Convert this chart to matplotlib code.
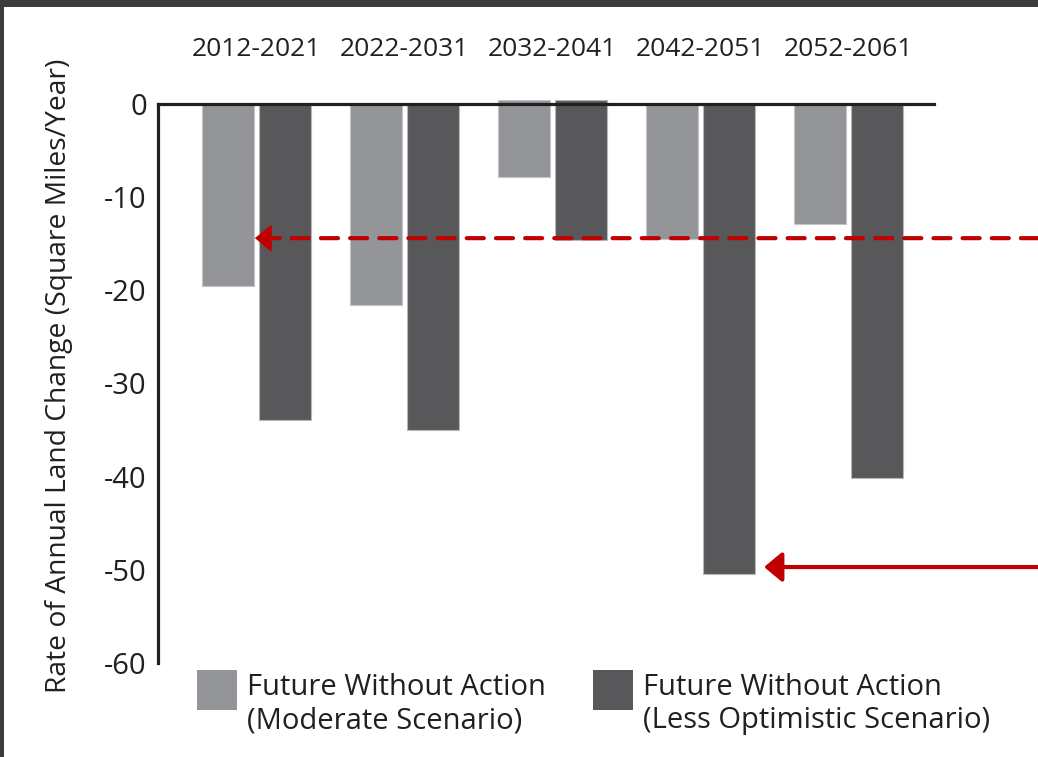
import matplotlib
matplotlib.use('Agg')
import matplotlib.pyplot as plt
from matplotlib.patches import Rectangle
import numpy as np

# Data (square miles / year)
periods = ['2012-2021', '2022-2031', '2032-2041', '2042-2051', '2052-2061']
moderate = [-19.5, -21.6, -7.8, -14.5, -12.9]
less_optimistic = [-33.9, -35.0, -14.6, -50.5, -40.1]
bar_base = [0, 0, 0.4, 0, 0]  # the 2032-2041 bars start slightly above zero
series_labels = ['Future Without Action\n(Moderate Scenario)',
                 'Future Without Action\n(Less Optimistic Scenario)']
y_ticks = [0, -10, -20, -30, -40, -50, -60]

# Reference arrows: (level, tip x in group units)
dashed_level, dashed_tip = -14.4, -0.01
solid_level, solid_tip = -49.7, 3.43

plt.rcParams['font.family'] = ['Open Sans', 'DejaVu Sans']
plt.rcParams['axes.unicode_minus'] = False
text_color = '#231f20'
light = '#939598'
dark = '#58585a'
red = '#c00000'

W, H = 1038, 757
fig = plt.figure(figsize=(W / 100, H / 100), dpi=100, facecolor='#3c3c3c')
fig.add_artist(Rectangle((4 / W, 0), 1, 1 - 7 / H, transform=fig.transFigure,
                         facecolor='white', edgecolor='none', zorder=-10))

ax = fig.add_axes([158 / W, 1 - 663 / H, (934 - 158) / W, (663 - 104) / H])
ax.set_facecolor('none')

x = np.arange(len(periods))
w, off = 0.35, 0.193
h_mod = [v - b for v, b in zip(moderate, bar_base)]
h_less = [v - b for v, b in zip(less_optimistic, bar_base)]
ax.bar(x - off, h_mod, w, bottom=bar_base, color=light, edgecolor='#c4c5c7',
       linewidth=0.8, clip_on=False, zorder=1)
ax.bar(x + off, h_less, w, bottom=bar_base, color=dark, edgecolor='#b8b8ba',
       linewidth=0.8, clip_on=False, zorder=1)

ax.set_xlim(-0.665, 4.578)
ax.set_ylim(-60, 0)

for side in ['right', 'bottom']:
    ax.spines[side].set_visible(False)
for side in ['top', 'left']:
    ax.spines[side].set_color(text_color)
    ax.spines[side].set_linewidth(2.3)

ax.xaxis.tick_top()
ax.set_xticks(x, periods)
ax.tick_params(axis='x', length=0, pad=30, labelsize=19, labelcolor=text_color)
ax.set_yticks(y_ticks)
ax.tick_params(axis='y', length=0, pad=8, labelsize=21, labelcolor=text_color)

ax.set_ylabel('Rate of Annual Land Change (Square Miles/Year)', fontsize=20.3,
              color=text_color)
ax.yaxis.set_label_coords(-0.11, 0.513)

# red reference arrows running off the right edge
head_len = 0.1  # group units, room for the solid arrow head
arrow_kw = dict(shrinkA=0, shrinkB=0, mutation_scale=10)
head_style = '-|>,head_length=1.08,head_width=0.9'
# dashed line + solid head
ax.annotate('', xy=(dashed_tip + head_len, dashed_level), xytext=(1.0, dashed_level),
            textcoords=('figure fraction', 'data'),
            arrowprops=dict(arrowstyle='-', color=red, lw=3,
                            linestyle=(0, (4.1, 2.9)), **arrow_kw),
            annotation_clip=False)
ax.annotate('', xy=(dashed_tip, dashed_level),
            xytext=(dashed_tip + head_len, dashed_level),
            arrowprops=dict(arrowstyle=head_style, color=red, lw=1, **arrow_kw),
            annotation_clip=False)
# solid arrow
ax.annotate('', xy=(solid_tip, solid_level), xytext=(1.0, solid_level),
            textcoords=('figure fraction', 'data'),
            arrowprops=dict(arrowstyle=head_style, color=red, lw=3, **arrow_kw),
            annotation_clip=False)

# legend drawn by hand below the plot
legend_items = [(197, light, series_labels[0]), (593, dark, series_labels[1])]
for px, col, lab in legend_items:
    fig.add_artist(Rectangle((px / W, 1 - 710 / H), 40 / W, 40 / H,
                             transform=fig.transFigure, facecolor=col,
                             edgecolor='none'))
    fig.text((px + 50) / W, 1 - 673 / H, lab, fontsize=21, color=text_color,
             va='top', ha='left')

fig.savefig('out.png', dpi=100, facecolor=fig.get_facecolor())
